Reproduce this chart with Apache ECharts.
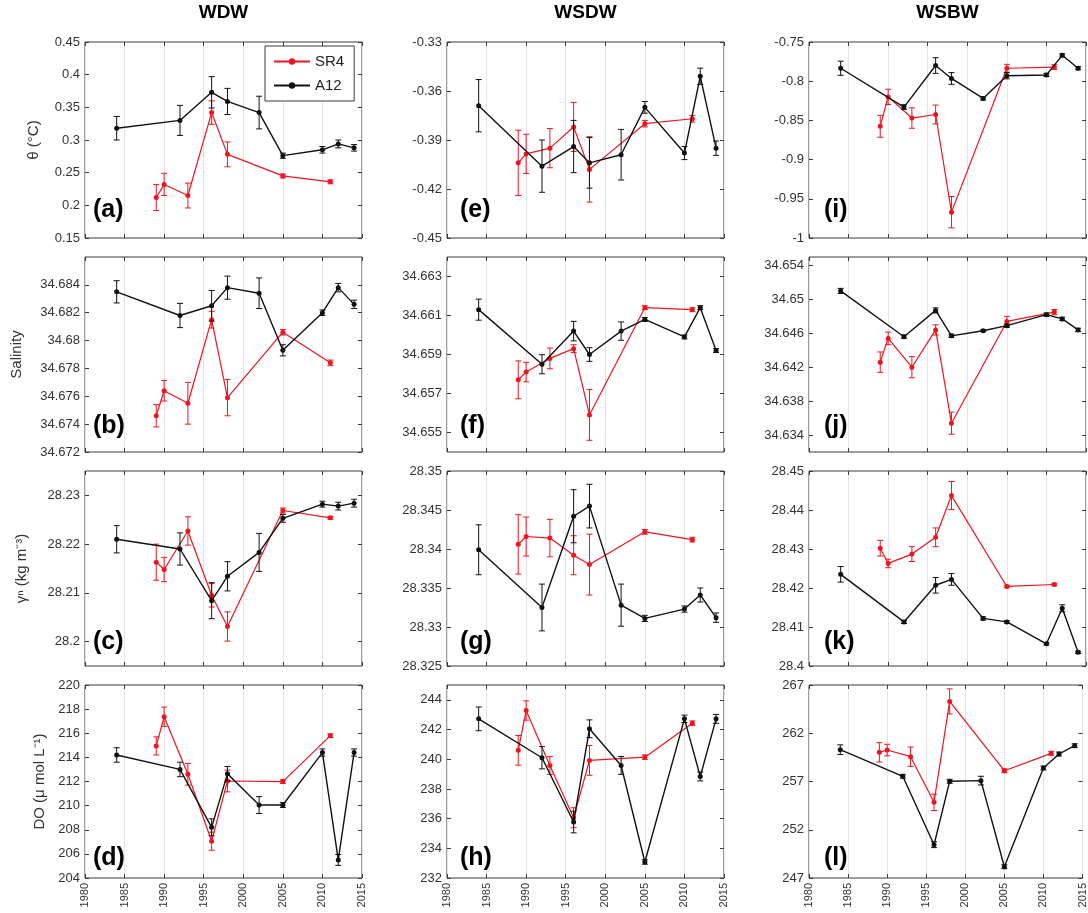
<!DOCTYPE html>
<html>
<head>
<meta charset="utf-8">
<script src="https://cdn.jsdelivr.net/npm/echarts@6/dist/echarts.min.js"></script>
<style>
  html, body { margin: 0; padding: 0; background: #fff; }
  #chart { width: 1088px; height: 913px; }
</style>
</head>
<body>
<div id="chart"></div>
<script>
// Survey years for each section
const yearsA12 = [1984, 1992, 1996, 1998, 2002, 2005, 2010, 2012, 2014];
const yearsSR4 = [1989, 1990, 1993, 1996, 1998, 2005, 2011];
const yearTicks = [1980, 1985, 1990, 1995, 2000, 2005, 2010, 2015];

// Potential temperature (°C)
const wdwThetaSR4 = [0.212, 0.232, 0.215, 0.342, 0.278, 0.245, 0.236];
const wdwThetaSR4Err = [0.020, 0.017, 0.019, 0.018, 0.019, 0.003, 0.003];
const wdwThetaA12 = [0.318, 0.330, 0.373, 0.359, 0.342, 0.276, 0.285, 0.294, 0.288];
const wdwThetaA12Err = [0.018, 0.023, 0.024, 0.020, 0.025, 0.004, 0.005, 0.006, 0.005];

const wsdwThetaSR4 = [-0.404, -0.3985, -0.395, -0.382, -0.408, -0.380, -0.377];
const wsdwThetaSR4Err = [0.020, 0.012, 0.012, 0.015, 0.020, 0.002, 0.002];
const wsdwThetaA12 = [-0.369, -0.406, -0.394, -0.404, -0.399, -0.370, -0.398, -0.351, -0.395];
const wsdwThetaA12Err = [0.016, 0.016, 0.016, 0.0155, 0.0155, 0.0036, 0.004, 0.005, 0.0044];

const wsbwThetaSR4 = [-0.8575, -0.820, -0.847, -0.8425, -0.967, -0.7835, -0.782];
const wsbwThetaSR4Err = [0.014, 0.0097, 0.013, 0.012, 0.020, 0.005, 0.003];
const wsbwThetaA12 = [-0.7835, -0.833, -0.780, -0.7965, -0.822, -0.793, -0.792, -0.767, -0.7835];
const wsbwThetaA12Err = [0.009, 0.003, 0.010, 0.0075, 0.002, 0.004, 0.002, 0.002, 0.002];

// Salinity
const wdwSalSR4 = [34.6746, 34.6764, 34.6755, 34.6815, 34.6759, 34.6806, 34.6784];
const wdwSalSR4Err = [0.0008, 0.00074, 0.0015, 0.0006, 0.0013, 0.0002, 0.0002];
const wdwSalA12 = [34.6835, 34.6818, 34.6825, 34.6838, 34.6834, 34.6793, 34.6820, 34.6838, 34.6826];
const wdwSalA12Err = [0.0008, 0.00087, 0.0011, 0.00083, 0.0011, 0.0004, 0.0002, 0.0003, 0.0003];

const wsdwSalSR4 = [34.6577, 34.6581, 34.6588, 34.6593, 34.6559, 34.6614, 34.6613];
const wsdwSalSR4Err = [0.00097, 0.0005, 0.00053, 0.0002, 0.0013, 0.0001, 0.0001];
const wsdwSalA12 = [34.6613, 34.6585, 34.6602, 34.6590, 34.6602, 34.6608, 34.6599, 34.6614, 34.6592];
const wsdwSalA12Err = [0.00054, 0.00049, 0.0005, 0.00035, 0.00047, 0.0001, 0.0001, 0.0001, 0.0001];

const wsbwSalSR4 = [34.6426, 34.6454, 34.6420, 34.6464, 34.6354, 34.6474, 34.6485];
const wsbwSalSR4Err = [0.0012, 0.00074, 0.00125, 0.0006, 0.0013, 0.0006, 0.0003];
const wsbwSalA12 = [34.6510, 34.6456, 34.6487, 34.6457, 34.6463, 34.6469, 34.6482, 34.6477, 34.6464];
const wsbwSalA12Err = [0.0003, 0.0002, 0.0003, 0.0002, 0.0001, 0.0002, 0.0002, 0.0002, 0.0002];

// Neutral density (kg m-3)
const wdwGammaSR4 = [28.2163, 28.2148, 28.2227, 28.2095, 28.2031, 28.2269, 28.2254];
const wdwGammaSR4Err = [0.0037, 0.0025, 0.0029, 0.0024, 0.003, 0.0005, 0.0003];
const wdwGammaA12 = [28.221, 28.219, 28.2084, 28.2134, 28.2183, 28.2253, 28.2282, 28.2278, 28.2284];
const wdwGammaA12Err = [0.0028, 0.0033, 0.0037, 0.003, 0.0039, 0.0008, 0.0006, 0.0008, 0.0008];

const wsdwGammaSR4 = [28.3406, 28.3416, 28.3414, 28.3392, 28.338, 28.3422, 28.3412];
const wsdwGammaSR4Err = [0.0038, 0.0025, 0.0024, 0.0025, 0.0039, 0.0003, 0.0003];
const wsdwGammaA12 = [28.3399, 28.3325, 28.3442, 28.3455, 28.3328, 28.3311, 28.3323, 28.3341, 28.3312];
const wsdwGammaA12Err = [0.0032, 0.003, 0.0034, 0.0028, 0.0027, 0.0004, 0.0004, 0.0009, 0.0006];

const wsbwGammaSR4 = [28.4302, 28.4263, 28.4287, 28.433, 28.4437, 28.4204, 28.4209];
const wsbwGammaSR4Err = [0.002, 0.0011, 0.0019, 0.0024, 0.0036, 0.0003, 0.0003];
const wsbwGammaA12 = [28.4235, 28.4113, 28.4207, 28.4222, 28.4122, 28.4113, 28.4057, 28.4148, 28.4035];
const wsbwGammaA12Err = [0.002, 0.0004, 0.002, 0.0015, 0.0004, 0.0003, 0.0003, 0.0009, 0.0003];

// Dissolved oxygen (µmol L-1)
const wdwDoSR4 = [214.95, 217.37, 212.6, 207.05, 212.04, 211.99, 215.8];
const wdwDoSR4Err = [0.75, 0.8, 0.9, 0.75, 0.9, 0.15, 0.15];
const wdwDoA12 = [214.2, 213.0, 208.2, 212.65, 210.05, 210.05, 214.4, 205.5, 214.4];
const wdwDoA12Err = [0.6, 0.6, 0.7, 0.6, 0.7, 0.2, 0.3, 0.45, 0.3];

const wsdwDoSR4 = [240.6, 243.28, 239.58, 236.06, 239.92, 240.14, 242.43];
const wsdwDoSR4Err = [1.0, 0.65, 0.6, 0.67, 1.0, 0.15, 0.15];
const wsdwDoA12 = [242.72, 240.1, 235.77, 242.05, 239.58, 233.08, 242.72, 238.84, 242.72];
const wsdwDoA12Err = [0.8, 0.75, 0.73, 0.6, 0.6, 0.15, 0.25, 0.3, 0.3];

const wsbwDoSR4 = [260.02, 260.26, 259.57, 254.84, 265.3, 258.12, 259.92];
const wsbwDoSR4Err = [1.0, 0.6, 1.0, 0.85, 1.3, 0.2, 0.2];
const wsbwDoA12 = [260.3, 257.54, 250.45, 257.02, 257.09, 248.17, 258.4, 259.85, 260.71];
const wsbwDoA12Err = [0.5, 0.2, 0.3, 0.2, 0.45, 0.2, 0.2, 0.2, 0.2];

// Y tick labels per panel
const ticksA = [0.15, 0.2, 0.25, 0.3, 0.35, 0.4, 0.45];
const ticksE = [-0.45, -0.42, -0.39, -0.36, -0.33];
const ticksI = [-1, -0.95, -0.9, -0.85, -0.8, -0.75];
const ticksB = [34.672, 34.674, 34.676, 34.678, 34.68, 34.682, 34.684];
const ticksF = [34.655, 34.657, 34.659, 34.661, 34.663];
const ticksJ = [34.634, 34.638, 34.642, 34.646, 34.65, 34.654];
const ticksC = [28.2, 28.21, 28.22, 28.23];
const ticksG = [28.325, 28.33, 28.335, 28.34, 28.345, 28.35];
const ticksK = [28.4, 28.41, 28.42, 28.43, 28.44, 28.45];
const ticksD = [204, 206, 208, 210, 212, 214, 216, 218, 220];
const ticksH = [232, 234, 236, 238, 240, 242, 244];
const ticksL = [247, 252, 257, 262, 267];

const columnTitles = ['WDW', 'WSDW', 'WSBW'];
const rowNames = ['θ (°C)', 'Salinity', 'γⁿ (kg m⁻³)', 'DO (μ mol L⁻¹)'];
const seriesNames = ['SR4', 'A12'];

const panels = [
  { tag: '(a)', col: 0, row: 0, sr4: wdwThetaSR4, sr4Err: wdwThetaSR4Err, a12: wdwThetaA12, a12Err: wdwThetaA12Err, range: [0.15, 0.45], ticks: ticksA },
  { tag: '(e)', col: 1, row: 0, sr4: wsdwThetaSR4, sr4Err: wsdwThetaSR4Err, a12: wsdwThetaA12, a12Err: wsdwThetaA12Err, range: [-0.45, -0.33], ticks: ticksE },
  { tag: '(i)', col: 2, row: 0, sr4: wsbwThetaSR4, sr4Err: wsbwThetaSR4Err, a12: wsbwThetaA12, a12Err: wsbwThetaA12Err, range: [-1, -0.75], ticks: ticksI },
  { tag: '(b)', col: 0, row: 1, sr4: wdwSalSR4, sr4Err: wdwSalSR4Err, a12: wdwSalA12, a12Err: wdwSalA12Err, range: [34.672, 34.686], ticks: ticksB },
  { tag: '(f)', col: 1, row: 1, sr4: wsdwSalSR4, sr4Err: wsdwSalSR4Err, a12: wsdwSalA12, a12Err: wsdwSalA12Err, range: [34.654, 34.664], ticks: ticksF },
  { tag: '(j)', col: 2, row: 1, sr4: wsbwSalSR4, sr4Err: wsbwSalSR4Err, a12: wsbwSalA12, a12Err: wsbwSalA12Err, range: [34.632, 34.655], ticks: ticksJ },
  { tag: '(c)', col: 0, row: 2, sr4: wdwGammaSR4, sr4Err: wdwGammaSR4Err, a12: wdwGammaA12, a12Err: wdwGammaA12Err, range: [28.195, 28.235], ticks: ticksC },
  { tag: '(g)', col: 1, row: 2, sr4: wsdwGammaSR4, sr4Err: wsdwGammaSR4Err, a12: wsdwGammaA12, a12Err: wsdwGammaA12Err, range: [28.325, 28.35], ticks: ticksG },
  { tag: '(k)', col: 2, row: 2, sr4: wsbwGammaSR4, sr4Err: wsbwGammaSR4Err, a12: wsbwGammaA12, a12Err: wsbwGammaA12Err, range: [28.4, 28.45], ticks: ticksK },
  { tag: '(d)', col: 0, row: 3, sr4: wdwDoSR4, sr4Err: wdwDoSR4Err, a12: wdwDoA12, a12Err: wdwDoA12Err, range: [204, 220], ticks: ticksD },
  { tag: '(h)', col: 1, row: 3, sr4: wsdwDoSR4, sr4Err: wsdwDoSR4Err, a12: wsdwDoA12, a12Err: wsdwDoA12Err, range: [232, 245], ticks: ticksH },
  { tag: '(l)', col: 2, row: 3, sr4: wsbwDoSR4, sr4Err: wsbwDoSR4Err, a12: wsbwDoA12, a12Err: wsbwDoA12Err, range: [247, 267], ticks: ticksL }
];

// Layout of the 4 x 3 panel grid (pixels)
const colLeft = [85, 447, 809];
const plotW = 277;
const rowTop = [42, 257, 471, 685];
const rowH = [196, 195, 195, 193];
const nameGaps = [44, 61, 56, 38];
const tagOffset = [28, 26, 24, 20];
const tagInset = [8, 13, 15];

const RED = '#f0141e';
const BLACK = '#111111';
const FONT = '"Liberation Sans", Arial, Helvetica, sans-serif';

const fmt = v => String(parseFloat(Number(v).toFixed(4)));

function errorBarSeries(xi, yi, years, vals, errs, color, z) {
  return {
    type: 'custom',
    xAxisIndex: xi,
    yAxisIndex: yi,
    z: z,
    silent: true,
    data: years.map((y, k) => [y, vals[k], errs[k]]),
    encode: { x: 0, y: 1 },
    renderItem: function (params, api) {
      const x = api.value(0), v = api.value(1), e = api.value(2);
      const top = api.coord([x, v + e]);
      const bot = api.coord([x, v - e]);
      const w = 3;
      const st = { stroke: color, lineWidth: 1 };
      return {
        type: 'group',
        children: [
          { type: 'line', shape: { x1: top[0], y1: top[1], x2: bot[0], y2: bot[1] }, style: st },
          { type: 'line', shape: { x1: top[0] - w, y1: top[1], x2: top[0] + w, y2: top[1] }, style: st },
          { type: 'line', shape: { x1: bot[0] - w, y1: bot[1], x2: bot[0] + w, y2: bot[1] }, style: st }
        ]
      };
    }
  };
}

const grid = [], xAxis = [], yAxis = [], series = [], graphic = [];

panels.forEach((p, i) => {
  grid.push({
    left: colLeft[p.col], top: rowTop[p.row], width: plotW, height: rowH[p.row],
    show: true, borderColor: '#3a3a3a', borderWidth: 1, backgroundColor: 'transparent'
  });
  const xi = 2 * i, yi = 2 * i;
  // bottom x axis
  xAxis.push({
    type: 'value', gridIndex: i, min: 1980, max: 2015, interval: 5, position: 'bottom',
    axisLine: { show: false },
    axisTick: { show: true, inside: true, length: 4, lineStyle: { color: '#3a3a3a' } },
    axisLabel: {
      show: p.row === 3, rotate: 90, fontSize: 11, color: '#333', margin: 5,
      fontFamily: FONT, formatter: v => String(v)
    },
    splitLine: { show: true, lineStyle: { color: '#e4e4e4', width: 1 } }
  });
  // top x axis (ticks only)
  xAxis.push({
    type: 'value', gridIndex: i, min: 1980, max: 2015, interval: 5, position: 'top',
    axisLine: { show: false },
    axisTick: { show: true, inside: true, length: 4, lineStyle: { color: '#3a3a3a' } },
    axisLabel: { show: false }, splitLine: { show: false }
  });
  // left y axis
  yAxis.push({
    type: 'value', gridIndex: i, min: p.range[0], max: p.range[1], position: 'left',
    name: p.col === 0 ? rowNames[p.row] : '',
    nameLocation: 'middle', nameGap: nameGaps[p.row], nameRotate: 90,
    nameTextStyle: { fontSize: 15, color: '#333', fontFamily: FONT },
    axisLine: { show: false },
    axisTick: { show: true, inside: true, length: 4, customValues: p.ticks, lineStyle: { color: '#3a3a3a' } },
    axisLabel: { show: true, customValues: p.ticks, fontSize: 13, color: '#333', margin: 5, fontFamily: FONT, formatter: fmt },
    splitLine: { show: false }
  });
  // right y axis (ticks only)
  yAxis.push({
    type: 'value', gridIndex: i, min: p.range[0], max: p.range[1], position: 'right',
    axisLine: { show: false },
    axisTick: { show: true, inside: true, length: 4, customValues: p.ticks, lineStyle: { color: '#3a3a3a' } },
    axisLabel: { show: false }, splitLine: { show: false }
  });

  // SR4 (red) then A12 (black) on top
  series.push(errorBarSeries(xi, yi, yearsSR4, p.sr4, p.sr4Err, RED, 3));
  series.push({
    type: 'line', name: seriesNames[0], xAxisIndex: xi, yAxisIndex: yi, z: 4,
    data: yearsSR4.map((y, k) => [y, p.sr4[k]]),
    symbol: 'circle', symbolSize: 5, showSymbol: true,
    lineStyle: { color: RED, width: 1.2 }, itemStyle: { color: RED }
  });
  series.push(errorBarSeries(xi, yi, yearsA12, p.a12, p.a12Err, BLACK, 5));
  series.push({
    type: 'line', name: seriesNames[1], xAxisIndex: xi, yAxisIndex: yi, z: 6,
    data: yearsA12.map((y, k) => [y, p.a12[k]]),
    symbol: 'circle', symbolSize: 5, showSymbol: true,
    lineStyle: { color: BLACK, width: 1.4 }, itemStyle: { color: BLACK }
  });

  // panel letter
  graphic.push({
    type: 'text', z: 100,
    x: colLeft[p.col] + tagInset[p.col],
    y: rowTop[p.row] + rowH[p.row] - tagOffset[p.row],
    style: { text: p.tag, fill: '#000', font: 'bold 25px ' + FONT, align: 'left', verticalAlign: 'middle' }
  });
});

// column titles
columnTitles.forEach((t, c) => {
  graphic.push({
    type: 'text', z: 100,
    x: colLeft[c] + plotW / 2, y: 13,
    style: { text: t, fill: '#000', font: 'bold 19px ' + FONT, align: 'center', verticalAlign: 'middle' }
  });
});

const chart = echarts.init(document.getElementById('chart'), null, { renderer: 'canvas' });
chart.setOption({
  animation: false,
  backgroundColor: '#fff',
  textStyle: { fontFamily: FONT },
  grid: grid,
  xAxis: xAxis,
  yAxis: yAxis,
  series: series,
  graphic: graphic,
  legend: {
    data: seriesNames,
    orient: 'vertical',
    left: 265, top: 46,
    backgroundColor: '#fff',
    borderColor: '#3a3a3a', borderWidth: 1,
    padding: [8, 10, 8, 8],
    itemWidth: 36, itemHeight: 8, itemGap: 9,
    selectedMode: false,
    textStyle: { fontSize: 15, color: '#222', fontFamily: FONT }
  }
});
</script>
</body>
</html>
